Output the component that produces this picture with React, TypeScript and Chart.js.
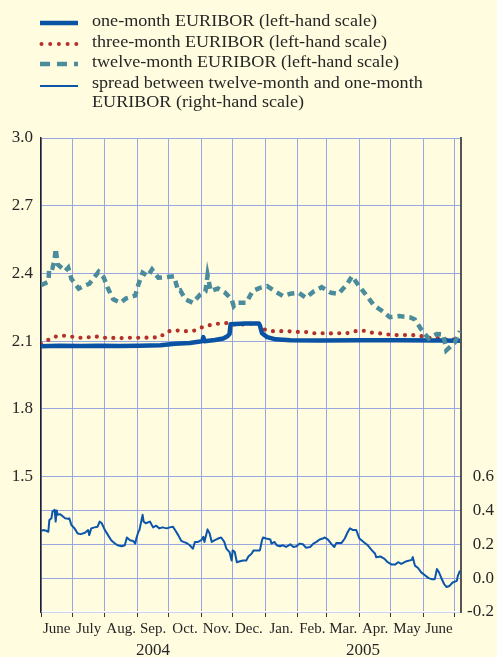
import React, { useEffect, useRef } from 'react';
import { Chart, registerables } from 'chart.js';

Chart.register(...registerables);

// ---------- data (x = days since 1 June 2004) ----------
const monthStartDays = [0, 30, 61, 92, 122, 153, 183, 214, 245, 273, 304, 334, 365, 395];
const monthLabels = ['June', 'July', 'Aug.', 'Sep.', 'Oct.', 'Nov.', 'Dec.', 'Jan.', 'Feb.', 'Mar.', 'Apr.', 'May', 'June'];
const yearLabels = ['2004', '2005'];
const yearStartDays = [0, 214];
const lastDay = 401;
const leftTicks = [1.5, 1.8, 2.1, 2.4, 2.7, 3.0];
const rightTicks = [-0.2, 0, 0.2, 0.4, 0.6];

const legendLabels = [
  ['one-month EURIBOR (left-hand scale)'],
  ['three-month EURIBOR (left-hand scale)'],
  ['twelve-month EURIBOR (left-hand scale)'],
  ['spread between twelve-month and one-month', 'EURIBOR (right-hand scale)'],
];

const oneMonthDays = [0, 18, 37, 56, 75, 94, 114, 128, 142, 152,
  154, 155, 156, 166, 174, 178, 180, 181, 195, 208,
  209, 211, 216, 224, 238, 266, 304, 343, 381, 400];
const oneMonthValues = [2.077, 2.080, 2.078, 2.080, 2.078, 2.080, 2.082, 2.088, 2.092, 2.098,
  2.100, 2.118, 2.100, 2.105, 2.112, 2.122, 2.132, 2.175, 2.178, 2.178,
  2.170, 2.135, 2.118, 2.108, 2.104, 2.103, 2.104, 2.104, 2.103, 2.102];

const threeMonthDays = [0, 6, 12, 19, 27, 35, 43, 51, 58, 67,
  74, 82, 90, 98, 106, 114, 118, 124, 132, 139,
  147, 154, 162, 169, 177, 184, 193, 200, 208, 212,
  220, 228, 236, 244, 252, 260, 268, 276, 284, 292,
  300, 307, 315, 323, 330, 339, 346, 353, 361, 368,
  375, 383, 390, 397];
const threeMonthValues = [2.088, 2.103, 2.118, 2.125, 2.122, 2.115, 2.115, 2.122, 2.115, 2.115,
  2.113, 2.115, 2.115, 2.115, 2.116, 2.118, 2.135, 2.147, 2.147, 2.144,
  2.147, 2.162, 2.172, 2.177, 2.180, 2.174, 2.174, 2.177, 2.177, 2.153,
  2.144, 2.144, 2.144, 2.141, 2.141, 2.135, 2.135, 2.134, 2.135, 2.135,
  2.144, 2.147, 2.138, 2.135, 2.130, 2.127, 2.127, 2.127, 2.125, 2.115,
  2.115, 2.112, 2.103, 2.112];

const twelveMonthDays = [0, 7, 8, 11, 13, 14, 16, 23, 26, 29,
  36, 41, 46, 55, 60, 64, 69, 76, 81, 90,
  93, 97, 102, 106, 112, 120, 127, 131, 133, 138,
  145, 152, 157, 159, 162, 169, 176, 182, 184, 187,
  196, 202, 209, 216, 223, 231, 238, 246, 253, 260,
  268, 277, 284, 292, 297, 303, 310, 318, 325, 333,
  342, 352, 357, 363, 370, 378, 384, 387, 395, 400];
const twelveMonthValues = [2.348, 2.363, 2.428, 2.425, 2.460, 2.510, 2.440, 2.410, 2.425, 2.376,
  2.333, 2.345, 2.354, 2.407, 2.381, 2.333, 2.285, 2.270, 2.289, 2.302,
  2.351, 2.403, 2.388, 2.418, 2.381, 2.384, 2.388, 2.322, 2.325, 2.285,
  2.270, 2.307, 2.320, 2.393, 2.322, 2.333, 2.314, 2.285, 2.255, 2.270,
  2.270, 2.322, 2.336, 2.344, 2.322, 2.300, 2.310, 2.314, 2.292, 2.319,
  2.339, 2.314, 2.310, 2.351, 2.388, 2.348, 2.307, 2.258, 2.236, 2.206,
  2.211, 2.206, 2.196, 2.152, 2.112, 2.132, 2.130, 2.059, 2.093, 2.144];

const spreadDays = [0, 2, 5, 7, 8, 10, 11, 13, 14, 15,
  16, 18, 19, 21, 23, 26, 27, 29, 32, 35,
  38, 42, 45, 46, 48, 51, 54, 56, 58, 61,
  64, 67, 70, 73, 77, 80, 82, 85, 88, 90,
  91, 93, 94, 97, 98, 100, 104, 107, 110, 113,
  116, 120, 123, 126, 128, 131, 134, 136, 139, 142,
  145, 147, 150, 153, 155, 156, 159, 161, 163, 166,
  169, 172, 175, 177, 180, 182, 183, 185, 187, 190,
  193, 196, 198, 201, 203, 206, 209, 211, 212, 215,
  219, 220, 223, 225, 228, 231, 234, 238, 241, 244,
  247, 250, 253, 257, 260, 263, 266, 269, 271, 274,
  277, 280, 282, 287, 290, 293, 295, 298, 301, 304,
  308, 312, 316, 319, 320, 324, 328, 331, 335, 338,
  341, 344, 349, 354, 355, 357, 360, 363, 366, 370,
  373, 376, 378, 380, 382, 385, 387, 390, 393, 397,
  398, 400];
const spreadValues = [0.278, 0.284, 0.280, 0.274, 0.344, 0.354, 0.394, 0.404, 0.334, 0.400,
  0.374, 0.378, 0.374, 0.364, 0.354, 0.350, 0.354, 0.314, 0.294, 0.264,
  0.260, 0.268, 0.284, 0.254, 0.294, 0.300, 0.304, 0.334, 0.324, 0.284,
  0.254, 0.224, 0.208, 0.194, 0.188, 0.194, 0.240, 0.224, 0.220, 0.204,
  0.234, 0.274, 0.284, 0.374, 0.334, 0.324, 0.334, 0.300, 0.310, 0.294,
  0.300, 0.294, 0.300, 0.304, 0.284, 0.254, 0.220, 0.214, 0.208, 0.194,
  0.174, 0.214, 0.214, 0.224, 0.244, 0.214, 0.288, 0.264, 0.214, 0.224,
  0.234, 0.240, 0.214, 0.174, 0.154, 0.104, 0.164, 0.154, 0.094, 0.100,
  0.104, 0.104, 0.128, 0.144, 0.164, 0.164, 0.164, 0.224, 0.240, 0.234,
  0.228, 0.204, 0.214, 0.194, 0.188, 0.194, 0.184, 0.200, 0.184, 0.188,
  0.204, 0.200, 0.180, 0.184, 0.204, 0.214, 0.228, 0.234, 0.240, 0.228,
  0.204, 0.184, 0.208, 0.208, 0.234, 0.274, 0.294, 0.284, 0.284, 0.234,
  0.214, 0.194, 0.164, 0.144, 0.124, 0.128, 0.114, 0.094, 0.080, 0.080,
  0.094, 0.084, 0.100, 0.108, 0.124, 0.074, 0.060, 0.034, 0.020, 0.000,
  -0.006, -0.006, 0.054, 0.034, 0.004, -0.036, -0.052, -0.046, -0.026, -0.016,
  0.014, 0.044];

// ---------- styles ----------
const BG = '#FFFCE0';
const GRID = '#98A6E2';
const TEXT = '#262626';
const C_ONE = '#0A52A3';
const C_THREE = '#B3302B';
const C_TWELVE = '#4B8C9C';
const C_SPREAD = '#0B56A8';
const FONT = '"Liberation Serif", "Times New Roman", serif';

const pts = (xs: number[], ys: number[]) => xs.map((x, i) => ({ x, y: ys[i] }));

const bgPlugin = {
  id: 'bgFill',
  beforeDraw(chart: any) {
    const { ctx, width, height } = chart;
    ctx.save();
    ctx.fillStyle = BG;
    ctx.fillRect(0, 0, width, height);
    ctx.restore();
  },
};

const legendPlugin = {
  id: 'customLegend',
  afterDraw(chart: any) {
    const ctx = chart.ctx as CanvasRenderingContext2D;
    const rowsY = [22, 43, 63, 84];
    const x0 = 40, x1 = 78, tx = 92;
    ctx.save();
    // swatches
    ctx.lineCap = 'butt';
    ctx.strokeStyle = C_ONE; ctx.lineWidth = 4.5;
    ctx.beginPath(); ctx.moveTo(x0, rowsY[0] + 1); ctx.lineTo(x1, rowsY[0] + 1); ctx.stroke();
    ctx.fillStyle = C_THREE;
    for (let x = x0 + 1.5; x <= x1; x += 8.7) {
      ctx.beginPath(); ctx.arc(x, rowsY[1] + 1, 2, 0, Math.PI * 2); ctx.fill();
    }
    ctx.strokeStyle = C_TWELVE; ctx.lineWidth = 4.5;
    ctx.setLineDash([10, 7]);
    ctx.beginPath(); ctx.moveTo(x0, rowsY[2] + 1); ctx.lineTo(x1, rowsY[2] + 1); ctx.stroke();
    ctx.setLineDash([]);
    ctx.strokeStyle = C_SPREAD; ctx.lineWidth = 2;
    ctx.beginPath(); ctx.moveTo(x0, rowsY[3] + 2); ctx.lineTo(x1, rowsY[3] + 2); ctx.stroke();
    // texts (slightly widened to match the original typeface)
    ctx.fillStyle = TEXT;
    ctx.font = '16.5px ' + FONT;
    ctx.textBaseline = 'middle';
    ctx.textAlign = 'left';
    legendLabels.forEach((lines, i) => {
      lines.forEach((t, j) => {
        ctx.save();
        ctx.translate(tx, rowsY[i] + j * 19);
        ctx.scale(1.097, 1);
        ctx.fillText(t, 0, 0);
        ctx.restore();
      });
    });
    ctx.restore();
  },
};

export default function App() {
  const ref = useRef<HTMLCanvasElement>(null);
  useEffect(() => {
    document.body.style.margin = '0';
    document.body.style.background = BG;
    Chart.defaults.font.family = FONT;
    Chart.defaults.color = TEXT;

    const monthMids = monthLabels.map((_, i) => (monthStartDays[i] + monthStartDays[i + 1]) / 2);
    const yearEnds = [yearStartDays[1], lastDay];
    const yearMids = yearLabels.map((_, i) => (yearStartDays[i] + yearEnds[i]) / 2);

    const chart = new Chart(ref.current as HTMLCanvasElement, {
      type: 'line',
      data: {
        datasets: [
          {
            label: 'spread', data: pts(spreadDays, spreadValues), yAxisID: 'y1', xAxisID: 'x',
            borderColor: C_SPREAD, borderWidth: 2, pointRadius: 0, tension: 0,
            borderJoinStyle: 'round',
          },
          {
            label: 'twelve', data: pts(twelveMonthDays, twelveMonthValues), yAxisID: 'y', xAxisID: 'x',
            borderColor: C_TWELVE, borderWidth: 4.5, pointRadius: 0, tension: 0,
            borderDash: [7, 5],
          },
          {
            label: 'one', data: pts(oneMonthDays, oneMonthValues), yAxisID: 'y', xAxisID: 'x',
            borderColor: C_ONE, borderWidth: 4.5, pointRadius: 0, tension: 0,
            borderJoinStyle: 'round',
          },
          {
            label: 'three', data: pts(threeMonthDays, threeMonthValues), yAxisID: 'y', xAxisID: 'x',
            borderColor: C_THREE, borderWidth: 4.2, pointRadius: 0, tension: 0,
            borderDash: [0, 8.3], borderCapStyle: 'round',
          },
        ],
      },
      options: {
        responsive: false,
        animation: false,
        devicePixelRatio: 1,
        layout: { padding: { top: 138, left: 0, right: 3, bottom: 0 } },
        plugins: { legend: { display: false }, tooltip: { enabled: false } },
        scales: {
          x: {
            type: 'linear', position: 'bottom', min: 0, max: lastDay,
            afterBuildTicks: (s: any) => { s.ticks = monthStartDays.map((v) => ({ value: v })); },
            afterFit: (s: any) => { s.height = 6; },
            ticks: { display: false },
            grid: { color: GRID, lineWidth: 1, drawTicks: true, tickLength: 5, tickColor: '#333333', tickWidth: 1 },
            border: { display: true, color: '#FFFFFF', width: 1.5 },
          },
          x2: {
            type: 'linear', position: 'bottom', min: 0, max: lastDay,
            afterBuildTicks: (s: any) => { s.ticks = monthMids.map((v) => ({ value: v })); },
            afterFit: (s: any) => { s.height = 22; },
            ticks: {
              autoSkip: false, maxRotation: 0, padding: 2,
              font: { size: 15, family: FONT }, color: TEXT,
              callback: (_v: any, i: number) => monthLabels[i],
            },
            grid: { display: false, drawTicks: false },
            border: { display: false },
          },
          x3: {
            type: 'linear', position: 'bottom', min: 0, max: lastDay,
            afterBuildTicks: (s: any) => { s.ticks = yearMids.map((v) => ({ value: v })); },
            afterFit: (s: any) => { s.height = 17; },
            ticks: {
              autoSkip: false, maxRotation: 0, padding: 0,
              font: { size: 17, family: FONT }, color: TEXT,
              callback: (_v: any, i: number) => yearLabels[i],
            },
            grid: { display: false, drawTicks: false },
            border: { display: false },
          },
          y: {
            type: 'linear', position: 'left', min: 0.9, max: 3.0,
            afterBuildTicks: (s: any) => { s.ticks = leftTicks.map((v) => ({ value: v })); },
            afterFit: (s: any) => { s.width = 41; },
            ticks: { padding: 8, font: { size: 17, family: FONT }, color: TEXT, callback: (v: any) => Number(v).toFixed(1) },
            grid: { color: GRID, lineWidth: 1, drawTicks: false },
            border: { display: true, color: '#222222', width: 1.5 },
          },
          y1: {
            type: 'linear', position: 'right', min: -0.2, max: 2.6,
            afterBuildTicks: (s: any) => { s.ticks = rightTicks.map((v) => ({ value: v })); },
            afterFit: (s: any) => { s.width = 33; },
            ticks: { padding: 6, crossAlign: 'far', font: { size: 17, family: FONT }, color: TEXT, callback: (v: any) => Number(v).toFixed(1) },
            grid: { color: GRID, lineWidth: 1, drawTicks: false, drawOnChartArea: true },
            border: { display: true, color: '#555555', width: 2 },
          },
        },
      } as any,
      plugins: [bgPlugin, legendPlugin],
    });
    return () => chart.destroy();
  }, []);

  return (
    <div style={{ width: 497, height: 657, background: BG }}>
      <canvas ref={ref} width={497} height={657} style={{ display: 'block' }} />
    </div>
  );
}
